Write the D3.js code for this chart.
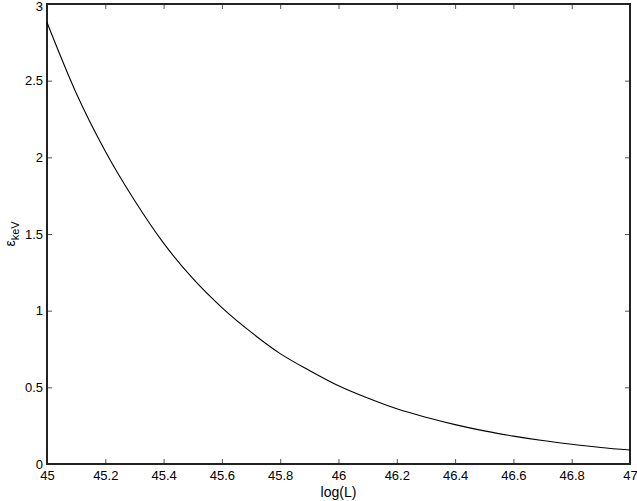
<!DOCTYPE html>
<html>
<head>
<meta charset="utf-8">
<style>
  body { margin: 0; background: #fff; }
  svg { display: block; font-family: "Liberation Sans", Arial, sans-serif; }
</style>
</head>
<body>
<div id="chart"></div>
<script src="https://d3js.org/d3.v7.min.js"></script>
<script>
    // values
    const logL = [45.0, 45.1, 45.2, 45.3, 45.4, 45.5, 45.6, 45.7, 45.8, 45.9, 46.0,
                  46.1, 46.2, 46.3, 46.4, 46.5, 46.6, 46.7, 46.8, 46.9, 47.0];
    const eKeV = [2.88, 2.42, 2.04, 1.72, 1.44, 1.21, 1.02, 0.86, 0.72, 0.61, 0.51,
                  0.43, 0.36, 0.305, 0.257, 0.216, 0.182, 0.153, 0.129, 0.108, 0.091];
    const xTicks = [45, 45.2, 45.4, 45.6, 45.8, 46, 46.2, 46.4, 46.6, 46.8, 47];
    const yTicks = [0, 0.5, 1, 1.5, 2, 2.5, 3];

    const W = 637, H = 501;
    const margin = { top: 4, right: 7, bottom: 37, left: 47 };
    const width = W - margin.left - margin.right;
    const height = H - margin.top - margin.bottom;

    const svg = d3.select('#chart').append('svg')
        .attr('width', W)
        .attr('height', H);

    const g = svg.append('g')
        .attr('transform', `translate(${margin.left},${margin.top})`);

    const x = d3.scaleLinear().domain([45, 47]).range([0, width]);
    const y = d3.scaleLinear().domain([0, 3]).range([height, 0]);

    const fmt = d => d3.format('')(d);

    // inward ticks on all four sides
    const axes = [
        d3.axisBottom(x).tickValues(xTicks).tickSize(-5).tickFormat(fmt),
        d3.axisTop(x).tickValues(xTicks).tickSize(-5).tickFormat(''),
        d3.axisLeft(y).tickValues(yTicks).tickSize(-5).tickFormat(fmt),
        d3.axisRight(y).tickValues(yTicks).tickSize(-5).tickFormat('')
    ];
    const shifts = [`translate(0,${height})`, 'translate(0,0)', 'translate(0,0)', `translate(${width},0)`];

    const axisGroups = axes.map((ax, i) => {
        const a = g.append('g').attr('transform', shifts[i]).call(ax);
        a.select('.domain').remove();
        a.selectAll('.tick line').attr('stroke', '#555').attr('stroke-width', 1);
        a.selectAll('.tick text').attr('fill', '#000').style('font-size', '13px');
        return a;
    });

    // nudge bottom / left labels
    axisGroups[0].selectAll('.tick text').attr('y', 7);
    axisGroups[2].selectAll('.tick text').attr('x', -4);
    // keep the top label inside the page
    axisGroups[2].selectAll('.tick text').filter(d => d === 3).attr('y', 2);

    // frame
    g.append('rect')
        .attr('x', 0).attr('y', 0)
        .attr('width', width).attr('height', height)
        .attr('fill', 'none')
        .attr('stroke', '#222')
        .attr('stroke-width', 2);

    const pts = logL.map((v, i) => [v, eKeV[i]]);
    g.append('path')
        .datum(pts)
        .attr('fill', 'none')
        .attr('stroke', '#000')
        .attr('stroke-width', 1.1)
        .attr('d', d3.line().x(d => x(d[0])).y(d => y(d[1])).curve(d3.curveMonotoneX));

    // axis labels
    svg.append('text')
        .attr('x', margin.left + x(46))
        .attr('y', 497)
        .attr('text-anchor', 'middle')
        .style('font-size', '14px')
        .text('log(L)');

    const yl = svg.append('text')
        .attr('transform', `translate(15,${margin.top + height / 2}) rotate(-90)`)
        .attr('text-anchor', 'middle')
        .style('font-size', '14px');
    yl.append('tspan').text('ε');
    yl.append('tspan').attr('dy', 4).style('font-size', '11px').text('keV');
</script>
</body>
</html>
